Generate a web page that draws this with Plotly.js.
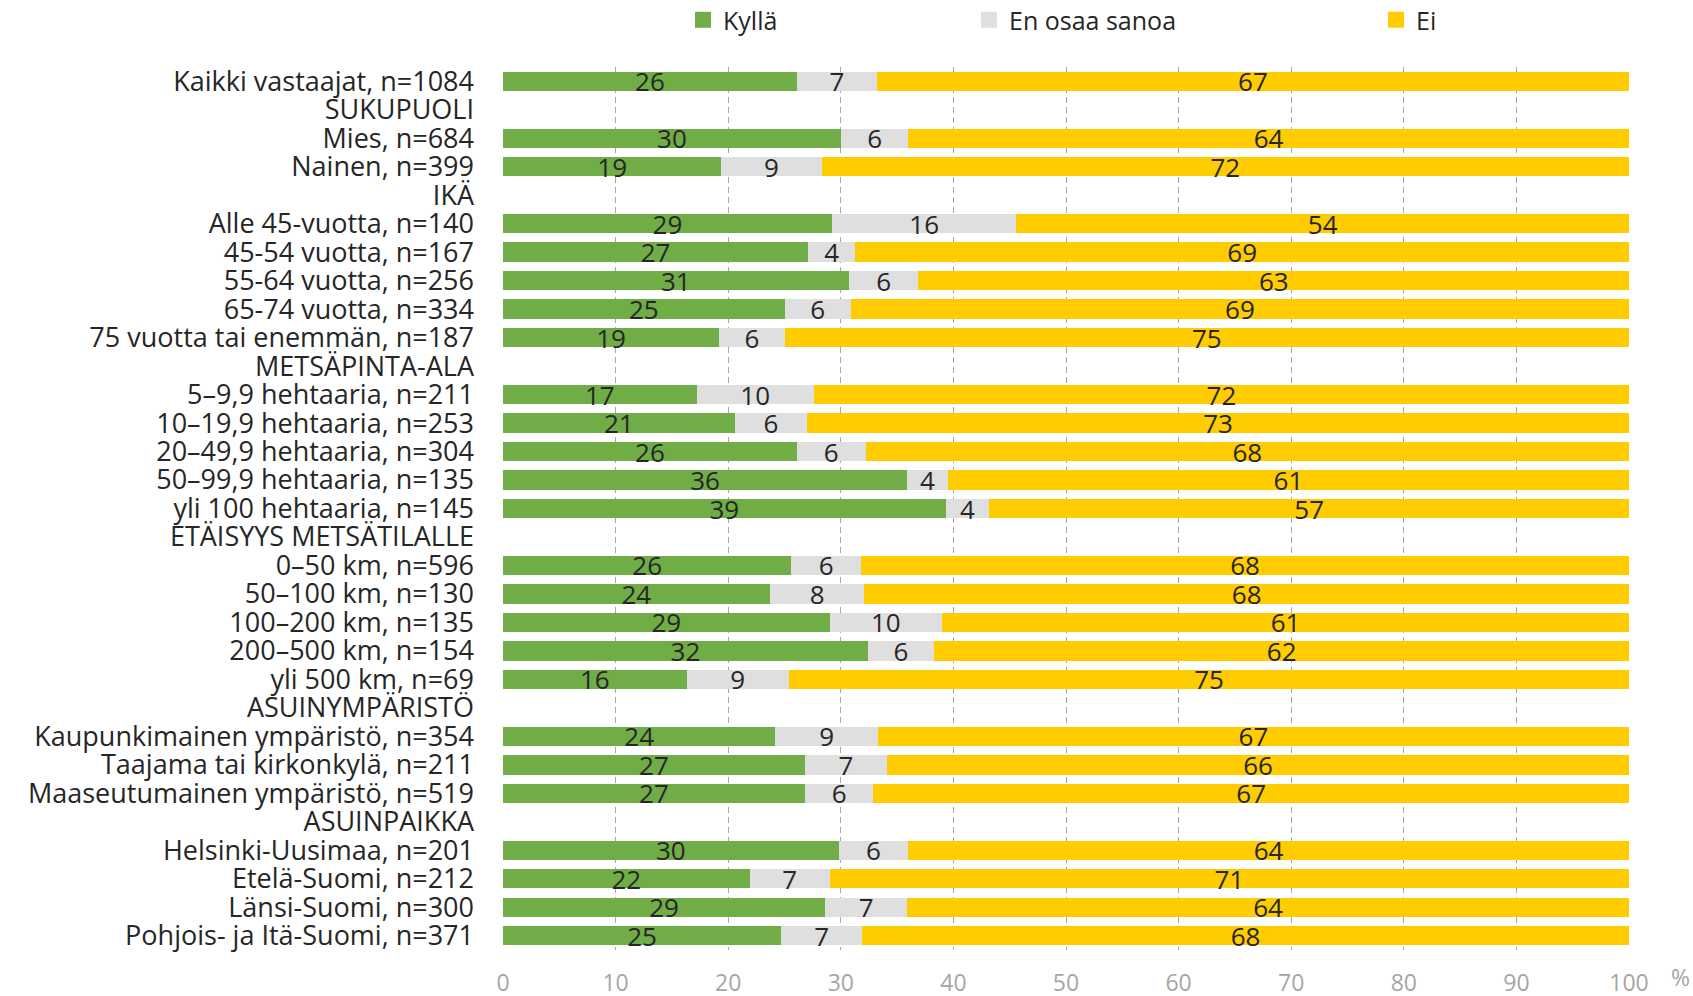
<!DOCTYPE html>
<html>
<head>
<meta charset="utf-8">
<script src="https://cdn.plot.ly/plotly-3.0.1.min.js"></script>
<style>html,body{margin:0;padding:0;background:#fff;}#chart{width:1693px;height:996px;}</style>
</head>
<body>
<div id="chart"></div>
<script>
const categories = [
  "Kaikki vastaajat, n=1084",
  "SUKUPUOLI",
  "Mies, n=684",
  "Nainen, n=399",
  "IKÄ",
  "Alle 45-vuotta, n=140",
  "45-54 vuotta, n=167",
  "55-64 vuotta, n=256",
  "65-74 vuotta, n=334",
  "75 vuotta tai enemmän, n=187",
  "METSÄPINTA-ALA",
  "5–9,9 hehtaaria, n=211",
  "10–19,9 hehtaaria, n=253",
  "20–49,9 hehtaaria, n=304",
  "50–99,9 hehtaaria, n=135",
  "yli 100 hehtaaria, n=145",
  "ETÄISYYS METSÄTILALLE",
  "0–50 km, n=596",
  "50–100 km, n=130",
  "100–200 km, n=135",
  "200–500 km, n=154",
  "yli 500 km, n=69",
  "ASUINYMPÄRISTÖ",
  "Kaupunkimainen ympäristö, n=354",
  "Taajama tai kirkonkylä, n=211",
  "Maaseutumainen ympäristö, n=519",
  "ASUINPAIKKA",
  "Helsinki-Uusimaa, n=201",
  "Etelä-Suomi, n=212",
  "Länsi-Suomi, n=300",
  "Pohjois- ja Itä-Suomi, n=371"
];

const kylla = [26.1, null, 30.0, 19.4, null, 29.2, 27.1, 30.7, 25.0, 19.2, null, 17.2, 20.6, 26.1, 35.9, 39.3, null, 25.6, 23.7, 29.0, 32.4, 16.3, null, 24.2, 26.8, 26.8, null, 29.8, 21.9, 28.6, 24.7];
const enOsaa = [7.1, null, 6.0, 8.9, null, 16.4, 4.2, 6.2, 5.9, 5.8, null, 10.4, 6.4, 6.1, 3.6, 3.9, null, 6.2, 8.4, 10.0, 5.9, 9.1, null, 9.1, 7.3, 6.1, null, 6.2, 7.1, 7.3, 7.2];
const ei = [66.8, null, 64.0, 71.7, null, 54.4, 68.7, 63.1, 69.1, 75.0, null, 72.4, 73.0, 67.8, 60.5, 56.8, null, 68.2, 67.9, 61.0, 61.7, 74.6, null, 66.7, 65.9, 67.1, null, 64.0, 71.0, 64.1, 68.1];

const seriesNames = ["Kyllä", "En osaa sanoa", "Ei"];
const seriesColors = ["#70AD47", "#DFDFDF", "#FFCC00"];
const xTicks = [0, 10, 20, 30, 40, 50, 60, 70, 80, 90, 100];

const FONT = "'Open Sans', 'Liberation Sans', sans-serif";
const TXT = "#262626";

function mk(vals, i) {
  return {
    type: "bar",
    orientation: "h",
    name: seriesNames[i],
    y: categories,
    x: vals,
    marker: {color: seriesColors[i], line: {width: 0}},
    texttemplate: "%{x:.0f}",
    textposition: "inside",
    insidetextanchor: "middle",
    constraintext: "none",
    textangle: 0,
    textfont: {family: FONT, size: 26, color: TXT},
    hoverinfo: "none",
    showlegend: false,
    cliponaxis: false
  };
}

// legend-only entries (square keys like the reference)
function key(i, legendId) {
  return {
    type: "scatter",
    mode: "markers",
    name: seriesNames[i],
    x: [null], y: [null],
    marker: {symbol: "square", size: 16, color: seriesColors[i]},
    legend: legendId,
    showlegend: true,
    hoverinfo: "none"
  };
}

const data = [
  mk(kylla, 0), mk(enOsaa, 1), mk(ei, 2),
  key(0, "legend"), key(1, "legend2"), key(2, "legend3")
];

function leg(xpx) {
  return {
    xref: "container", yref: "container",
    x: xpx / 1693, y: 1 - 20 / 996,
    xanchor: "left", yanchor: "middle",
    orientation: "h",
    itemsizing: "trace",
    font: {family: FONT, size: 25, color: TXT},
    bgcolor: "rgba(0,0,0,0)",
    borderwidth: 0
  };
}

const layout = {
  width: 1693, height: 996,
  margin: {l: 503, r: 64, t: 67, b: 46, pad: 0, autoexpand: false},
  paper_bgcolor: "#ffffff",
  plot_bgcolor: "#ffffff",
  barmode: "stack",
  bargap: 0.32,
  font: {family: FONT, color: TXT},
  showlegend: true,
  legend: leg(683),
  legend2: leg(969),
  legend3: leg(1376),
  xaxis: {
    range: [0, 100],
    tickvals: xTicks,
    ticktext: xTicks.map(String),
    showgrid: true,
    gridcolor: "#A6A6A6",
    gridwidth: 1,
    griddash: "6px,4px",
    zeroline: false,
    showline: false,
    ticks: "",
    tickfont: {family: FONT, size: 23, color: "#A6A6A6"},
    ticklabelstandoff: 17,
    automargin: false,
    fixedrange: true
  },
  yaxis: {
    type: "category",
    range: [categories.length - 0.5, -0.5],
    tickmode: "array",
    tickvals: categories,
    ticktext: categories,
    showgrid: false,
    zeroline: false,
    showline: false,
    ticks: "",
    tickfont: {family: FONT, size: 27, color: TXT},
    ticklabelstandoff: 28,
    automargin: false,
    fixedrange: true
  },
  annotations: [{
    text: "%", xref: "paper", yref: "paper",
    x: (1680 - 503) / 1126, y: (950 - 977) / 883,
    xanchor: "center", yanchor: "middle",
    showarrow: false,
    font: {family: FONT, size: 23, color: "#A6A6A6"}
  }]
};

Plotly.newPlot("chart", data, layout, {displayModeBar: false, staticPlot: true});
</script>
</body>
</html>
